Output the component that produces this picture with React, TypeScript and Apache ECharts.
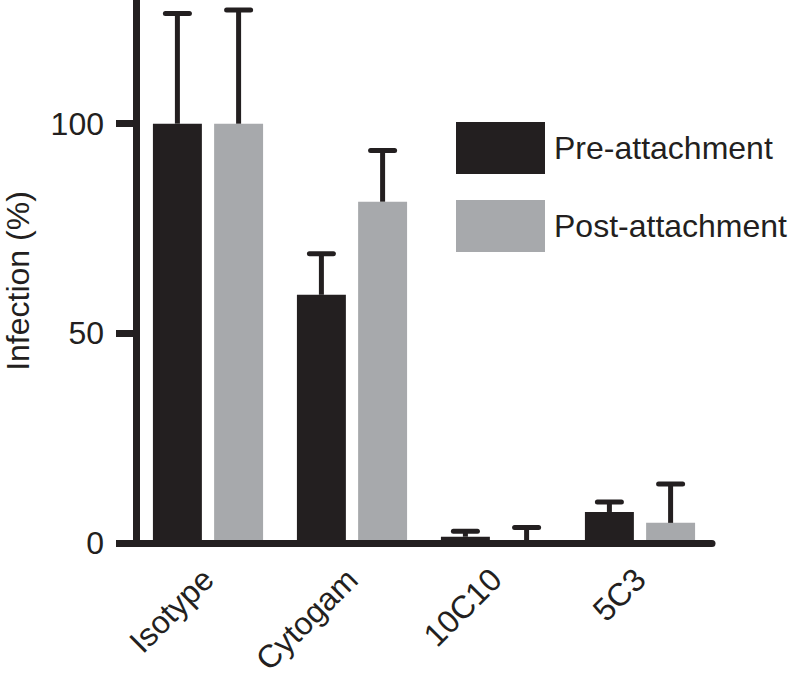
import React, { useEffect, useRef } from "react";
import * as echarts from "echarts";

const categories = ["Isotype", "Cytogam", "10C10", "5C3"];
const preValues = [100, 59.2, 1.5, 7.4];
const preErrors = [26.3, 9.8, 1.3, 2.4];
const postValues = [100, 81.4, 0, 4.8];
const postErrors = [27.1, 12.2, 3.7, 9.3];
const yTicks = [0, 50, 100];

const INK = "#231f20";
const GREY = "#a7a9ac";
const FONT = "Liberation Sans, Arial, Helvetica, sans-serif";
const BAR_FRAC = 0.34;
const GAP_FRAC = 0.25;

function errorSeries(name: string, values: number[], errors: number[], sign: number) {
  return {
    type: "custom",
    name,
    z: 5,
    data: values.map((v, i) => [i, v, errors[i]]),
    encode: { x: 0, y: 1 },
    renderItem: (params: any, api: any) => {
      const idx = api.value(0);
      const mean = api.value(1);
      const err = api.value(2);
      const band = api.size([1, 0])[0];
      const bw = band * BAR_FRAC;
      const off = sign * (bw + bw * GAP_FRAC) / 2;
      const base = api.coord([idx, mean]);
      const top = api.coord([idx, mean + err]);
      const x = base[0] + off;
      const cap = 12;
      return {
        type: "group",
        children: [
          {
            type: "line",
            shape: { x1: x, y1: base[1], x2: x, y2: top[1] },
            style: { stroke: INK, lineWidth: 5 },
          },
          {
            type: "line",
            shape: { x1: x - cap, y1: top[1], x2: x + cap, y2: top[1] },
            style: { stroke: INK, lineWidth: 5, lineCap: "round" },
          },
        ],
      };
    },
  };
}

export default function App() {
  const ref = useRef<HTMLDivElement>(null);
  useEffect(() => {
    if (!ref.current) return;
    const chart = echarts.init(ref.current, null, { renderer: "svg" });
    chart.setOption({
      animation: false,
      backgroundColor: "#ffffff",
      textStyle: { fontFamily: FONT, color: INK },
      grid: {
        left: 136,
        right: 76,
        top: 0,
        bottom: 130,
        containLabel: false,
        outerBoundsMode: "none",
      },
      legend: {
        orient: "vertical",
        left: 456,
        top: 122,
        padding: 0,
        itemWidth: 89,
        itemHeight: 52,
        itemGap: 26,
        icon: "rect",
        data: ["Pre-attachment", "Post-attachment"],
        textStyle: { fontFamily: FONT, fontSize: 32, color: INK, padding: [8, 0, 0, 4] },
        selectedMode: false,
      },
      xAxis: {
        type: "category",
        data: categories,
        z: 10,
        axisLine: { lineStyle: { color: INK, width: 7, cap: "round" } },
        axisTick: { alignWithLabel: true, length: 20, lineStyle: { color: INK, width: 7 } },
        axisLabel: {
          rotate: 45,
          margin: 31,
          fontSize: 32,
          fontFamily: FONT,
          color: INK,
          interval: 0,
        },
        splitLine: { show: false },
      },
      yAxis: {
        type: "value",
        min: 0,
        max: 129.5,
        interval: 50,
        z: 10,
        axisLine: { show: true, lineStyle: { color: INK, width: 7 } },
        axisTick: { show: true, length: 20, customValues: yTicks, lineStyle: { color: INK, width: 7 } },
        axisLabel: { margin: 32, fontSize: 32, fontFamily: FONT, color: INK, customValues: yTicks },
        splitLine: { show: false },
      },
      graphic: [
        {
          type: "text",
          x: 18,
          y: 281,
          rotation: Math.PI / 2,
          style: {
            text: "Infection (%)",
            font: `32px ${FONT}`,
            fill: INK,
            align: "center",
            verticalAlign: "middle",
          },
        },
      ],
      series: [
        {
          type: "bar",
          name: "Pre-attachment",
          data: preValues,
          barWidth: `${BAR_FRAC * 100}%`,
          barGap: `${GAP_FRAC * 100}%`,
          itemStyle: { color: INK },
        },
        {
          type: "bar",
          name: "Post-attachment",
          data: postValues,
          barWidth: `${BAR_FRAC * 100}%`,
          barGap: `${GAP_FRAC * 100}%`,
          itemStyle: { color: GREY },
        },
        errorSeries("preErr", preValues, preErrors, -1),
        errorSeries("postErr", postValues, postErrors, 1),
      ],
    });
    return () => chart.dispose();
  }, []);
  return (
    <div
      ref={ref}
      style={{ position: "fixed", left: 0, top: 0, width: 788, height: 673, background: "#fff" }}
    />
  );
}
